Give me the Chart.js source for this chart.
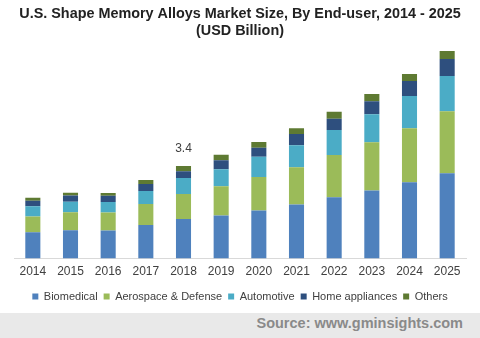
<!DOCTYPE html>
<html>
<head>
<meta charset="utf-8">
<script src="https://cdn.jsdelivr.net/npm/chart.js@4"></script>
<style>
  body { margin: 0; width: 480px; height: 338px; overflow: hidden; background: #fff; font-family: "Liberation Sans", Arial, sans-serif; }
  #wrap { position: relative; width: 480px; height: 313px; }
  #footer { height: 25px; background: #e9e9e9; color: #8a8a8a; font-weight: bold; font-size: 14.5px; text-align: right; padding-right: 17px; line-height: 21px; box-sizing: border-box; }
</style>
</head>
<body>
<div id="wrap"><canvas id="chart"></canvas></div>
<div id="footer">Source: www.gminsights.com</div>
<script>
// Chart data (USD Billion)
const years = ['2014', '2015', '2016', '2017', '2018', '2019', '2020', '2021', '2022', '2023', '2024', '2025'];
const biomedical = [0.97, 1.04, 1.03, 1.23, 1.45, 1.58, 1.77, 1.99, 2.25, 2.50, 2.80, 3.13];
const aerospace = [0.58, 0.66, 0.66, 0.77, 0.92, 1.08, 1.23, 1.36, 1.55, 1.77, 1.99, 2.28];
const automotive = [0.37, 0.39, 0.39, 0.48, 0.59, 0.62, 0.74, 0.81, 0.92, 1.03, 1.18, 1.29];
const homeAppliances = [0.20, 0.23, 0.23, 0.26, 0.25, 0.33, 0.33, 0.41, 0.41, 0.48, 0.55, 0.63];
const others = [0.11, 0.10, 0.10, 0.15, 0.19, 0.20, 0.21, 0.22, 0.26, 0.26, 0.26, 0.29];
const labelYear = '2018';
const labelText = '3.4';

// Draws the one value label above the 2018 stack
const totalLabel = {
  id: 'totalLabel',
  afterDatasetsDraw(chart) {
    const idx = years.indexOf(labelYear);
    const meta = chart.getDatasetMeta(chart.data.datasets.length - 1);
    const bar = meta.data[idx];
    const ctx = chart.ctx;
    ctx.save();
    ctx.font = '12px "Liberation Sans", Arial, sans-serif';
    ctx.fillStyle = '#404040';
    ctx.textAlign = 'center';
    ctx.textBaseline = 'bottom';
    ctx.fillText(labelText, bar.x, bar.y - 11);
    ctx.restore();
  }
};

function ds(label, data, color) {
  return { label: label, data: data, backgroundColor: color, barPercentage: 0.4, categoryPercentage: 1.0 };
}

new Chart(document.getElementById('chart'), {
  type: 'bar',
  data: {
    labels: years,
    datasets: [
      ds('Biomedical', biomedical, '#4f81bd'),
      ds('Aerospace & Defense', aerospace, '#9bbb59'),
      ds('Automotive', automotive, '#4bacc6'),
      ds('Home appliances', homeAppliances, '#2e4f7e'),
      ds('Others', others, '#5e7a32')
    ]
  },
  options: {
    responsive: true,
    maintainAspectRatio: false,
    animation: false,
    layout: { padding: { left: 14, right: 14, top: 0, bottom: 1 } },
    plugins: {
      title: {
        display: true,
        text: ['U.S. Shape Memory Alloys Market Size, By End-user, 2014 - 2025', '(USD Billion)'],
        color: '#222',
        font: { family: '"Liberation Sans", Arial, sans-serif', size: 14.4, weight: 'bold', lineHeight: 1.17 },
        padding: { top: 6, bottom: 1 }
      },
      legend: {
        position: 'bottom',
        labels: {
          color: '#404040',
          font: { family: '"Liberation Sans", Arial, sans-serif', size: 11 },
          boxWidth: 6,
          boxHeight: 6,
          padding: 6
        }
      },
      tooltip: { enabled: false }
    },
    scales: {
      x: {
        stacked: true,
        grid: { display: false, drawTicks: false },
        border: { color: '#d9d9d9' },
        ticks: { color: '#404040', font: { family: '"Liberation Sans", Arial, sans-serif', size: 12 }, padding: 6 }
      },
      y: {
        stacked: true,
        display: false,
        min: 0,
        max: 8
      }
    }
  },
  plugins: [totalLabel]
});
</script>
</body>
</html>
